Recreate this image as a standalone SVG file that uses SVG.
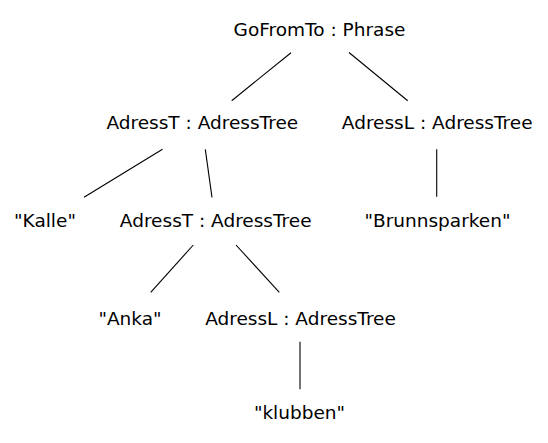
<svg xmlns="http://www.w3.org/2000/svg" width="548" height="443" viewBox="0 0 548 443">
<style>
text{font-family:"DejaVu Sans","Liberation Sans",sans-serif;font-size:18.5px;fill:#000;text-anchor:middle}
line{stroke:#000;stroke-width:1.1}
</style>
<rect width="548" height="443" fill="#fff"/>
<g id="connectors">
<line x1="291" y1="52.7" x2="231.7" y2="100.7"/>
<line x1="349" y1="52.5" x2="407.7" y2="100.7"/>
<line x1="162.5" y1="149.3" x2="84" y2="197.3"/>
<line x1="205.3" y1="149.3" x2="212" y2="197.3"/>
<line x1="436.7" y1="149.3" x2="436.7" y2="196.7"/>
<line x1="193.3" y1="245" x2="150.7" y2="292.3"/>
<line x1="236" y1="245" x2="279.3" y2="292.3"/>
<line x1="300" y1="341.7" x2="300" y2="389.3"/>
</g>
<g id="n-gofromto"><text x="319.5" y="36">GoFromTo : Phrase</text></g>
<g id="n-adresst1"><text x="202.3" y="129.3">AdressT : AdressTree</text></g>
<g id="n-adressl1"><text x="437.2" y="129.3">AdressL : AdressTree</text></g>
<g id="n-kalle"><text x="45" y="227.3">"Kalle"</text></g>
<g id="n-adresst2"><text x="215.7" y="227.3">AdressT : AdressTree</text></g>
<g id="n-brunnsparken"><text x="437.5" y="227.3">"Brunnsparken"</text></g>
<g id="n-anka"><text x="130" y="325">"Anka"</text></g>
<g id="n-adressl2"><text x="300.5" y="325">AdressL : AdressTree</text></g>
<g id="n-klubben"><text x="299.5" y="419.3">"klubben"</text></g>
</svg>
